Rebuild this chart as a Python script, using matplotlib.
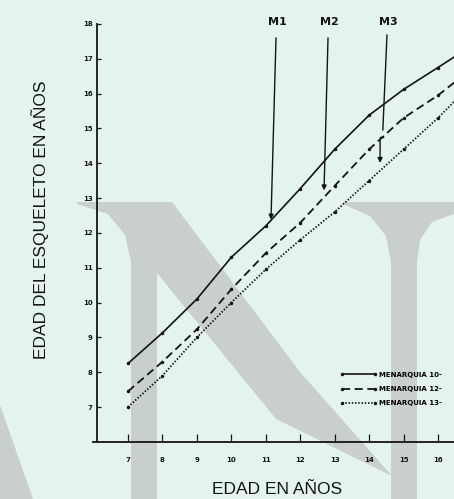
import matplotlib
matplotlib.use('Agg')
import matplotlib.pyplot as plt
from matplotlib.patches import Polygon

# datos (edad cronologica vs edad osea)
edad = [7, 8, 9, 10, 11, 12, 13, 14, 15, 16, 16.5]
menarquia_10 = [8.25, 9.13, 10.1, 11.3, 12.2, 13.27, 14.4, 15.38, 16.12, 16.75, 17.07]
menarquia_12 = [7.45, 8.3, 9.23, 10.38, 11.42, 12.29, 13.35, 14.4, 15.3, 15.95, 16.34]
menarquia_13 = [7.0, 7.9, 9.0, 10.0, 10.95, 11.8, 12.6, 13.5, 14.4, 15.3, 15.8]
etiquetas = ['MENARQUIA 10-', 'MENARQUIA 12-', 'MENARQUIA 13-']

x_ticks = list(range(7, 17))
y_ticks = list(range(7, 19))

# flechas M1, M2, M3: (x arriba, x abajo, y abajo)
marcas = ['M1', 'M2', 'M3']
marca_x_txt = [11.33, 12.86, 14.55]
flecha_top = [11.30, 12.81, 14.52]
flecha_bot = [11.15, 12.69, 14.40]
flecha_y = [12.30, 13.14, 14.96]

fondo = '#e4f3f0'
gris = '#c9cfce'
tinta = '#141414'

fig = plt.figure(figsize=(4.54, 4.99), dpi=100)
fig.patch.set_facecolor(fondo)

# marca de agua "N" (coordenadas en pixeles de la imagen)
bg = fig.add_axes([0, 0, 1, 1])
bg.set_xlim(0, 454)
bg.set_ylim(499, 0)
bg.axis('off')
bg.set_facecolor('none')
izq = [(77, 202), (172, 202), (300, 372), (392, 476), (276, 419),
       (157, 273), (157, 499), (131, 499), (131, 262), (125, 235),
       (108, 214), (77, 204)]
der = [(343, 202), (454, 202), (454, 214), (432, 222), (420, 240),
       (417, 262), (417, 499), (391, 499), (391, 262), (386, 236),
       (370, 216), (343, 204)]
cuna = [(0, 405), (33, 499), (0, 499)]
for pts in (izq, der, cuna):
    bg.add_patch(Polygon(pts, closed=True, facecolor=gris, edgecolor='none'))

ax = fig.add_axes([93 / 454, 57 / 499, 1 - 93 / 454, 1 - 57 / 499])
ax.set_facecolor('none')
ax.set_xlim(5.984, 16.466)
ax.set_ylim(5.995, 18.689)

l1, = ax.plot(edad, menarquia_10, color=tinta, lw=1.2, ls='-',
              marker='o', ms=1.5)
l2, = ax.plot(edad, menarquia_12, color=tinta, lw=1.3, ls=(0, (4.5, 2.5)),
              marker='o', ms=1.5)
l3, = ax.plot(edad, menarquia_13, color=tinta, lw=1.3, ls=(0, (0.8, 1.0)),
              marker='o', ms=1.5)

for i in range(3):
    ax.text(marca_x_txt[i], 18.06, marcas[i], ha='center', va='center',
            fontsize=8, fontweight='bold', color=tinta)
    if i < 2:
        ax.annotate('', xy=(flecha_bot[i], flecha_y[i]),
                    xytext=(flecha_top[i], 17.68),
                    arrowprops=dict(arrowstyle='-|>', lw=1.0, color=tinta,
                                    mutation_scale=7))
# M3 con quiebre
ax.plot([flecha_top[2], flecha_bot[2]], [17.68, flecha_y[2]], color=tinta, lw=1.0)
ax.plot([flecha_bot[2], 14.32], [14.76, 14.76], color=tinta, lw=1.0)
ax.annotate('', xy=(14.32, 13.93), xytext=(14.32, 14.76),
            arrowprops=dict(arrowstyle='-|>', lw=1.0, color=tinta,
                            mutation_scale=7))

for s in ['top', 'right']:
    ax.spines[s].set_visible(False)
ax.spines['left'].set_position(('data', 6.1))
ax.spines['left'].set_bounds(5.995, 18.0)
ax.spines['left'].set_linewidth(1.3)
ax.spines['bottom'].set_linewidth(1.3)
ax.spines['left'].set_color(tinta)
ax.spines['bottom'].set_color(tinta)

ax.set_xticks(x_ticks)
ax.set_yticks(y_ticks)
ax.set_xticklabels([str(v) for v in x_ticks], fontsize=5, fontweight='bold',
                   color=tinta)
ax.set_yticklabels([str(v) for v in y_ticks], fontsize=5, fontweight='bold',
                   color=tinta)
ax.tick_params(axis='x', direction='in', length=6, width=0.9, pad=10.5,
               colors=tinta)
ax.tick_params(axis='y', direction='in', length=3, width=0.9, pad=3,
               colors=tinta)

fig.text(40 / 454, 1 - 220 / 499, 'EDAD DEL ESQUELETO EN AÑOS', rotation=90,
         ha='center', va='center', fontsize=12.5, family='Liberation Sans',
         color=tinta)
fig.text(277 / 454, 1 - 489 / 499, 'EDAD EN AÑOS', ha='center', va='center',
         fontsize=12.5, family='Liberation Sans', color=tinta)

ax.legend([l1, l2, l3], etiquetas, loc='center left',
          bbox_to_anchor=(340 / 454, 1 - 389 / 499),
          bbox_transform=fig.transFigure, frameon=False, borderpad=0,
          borderaxespad=0, handlelength=5.3, handletextpad=0.3,
          labelspacing=1.2, numpoints=2, markerscale=1.0,
          prop={'size': 5, 'weight': 'bold'})

fig.savefig('out.png', dpi=100, facecolor=fondo)
